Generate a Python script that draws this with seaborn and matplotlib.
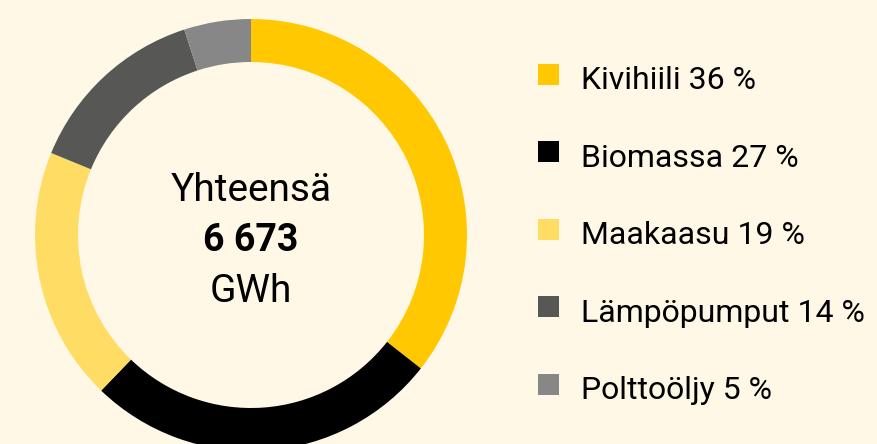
import matplotlib
matplotlib.use("Agg")
import matplotlib.pyplot as plt
import seaborn as sns
from matplotlib.patches import Rectangle

categories = ["Kivihiili", "Biomassa", "Maakaasu", "Lämpöpumput", "Polttoöljy"]
shares = [35.6, 26.6, 19.0, 13.8, 5.0]
labels_pct = ["36 %", "27 %", "19 %", "14 %", "5 %"]
colors = ["#FFC800", "#000000", "#FFDC64", "#575756", "#878787"]
center_lines = ["Yhteensä", "6 673", "GWh"]

BG = "#FFF8E7"
sns.set_theme(style="white")
plt.rcParams["font.family"] = ["Roboto", "DejaVu Sans"]

W, H = 877, 444
fig = plt.figure(figsize=(W / 100, H / 100), dpi=100)
fig.patch.set_facecolor(BG)

cx, cy, R = 251, 235, 216
ax = fig.add_axes([(cx - R) / W, (H - cy - R) / H, 2 * R / W, 2 * R / H])
ax.set_facecolor(BG)
ax.pie(shares, colors=colors, startangle=90, counterclock=False, radius=1,
       wedgeprops=dict(width=43 / 216, linewidth=0, antialiased=True))
ax.set_xlim(-1, 1)
ax.set_ylim(-1, 1)
ax.set_aspect("equal")
ax.axis("off")

# centre text
ax.text(0, (cy - 201.5) / R, center_lines[0], ha="center", va="baseline",
        fontsize=28, color="#000000")
ax.text(0, (cy - 251) / R, center_lines[1], ha="center", va="baseline",
        fontsize=27, fontweight="bold", color="#000000")
ax.text(0, (cy - 301.5) / R, center_lines[2], ha="center", va="baseline",
        fontsize=28, color="#000000")

# legend
for i, (cat, pct, col) in enumerate(zip(categories, labels_pct, colors)):
    base = 89.3 + 77.4 * i
    sq_top = 64 + 77.4 * i
    fig.patches.append(Rectangle((538 / W, 1 - (sq_top + 21) / H), 21 / W, 21 / H,
                                 transform=fig.transFigure, facecolor=col,
                                 edgecolor="none"))
    fig.text(581 / W, 1 - base / H, f"{cat} {pct}", ha="left", va="baseline",
             fontsize=23, color="#000000")

fig.savefig("out.png", dpi=100, facecolor=BG)
